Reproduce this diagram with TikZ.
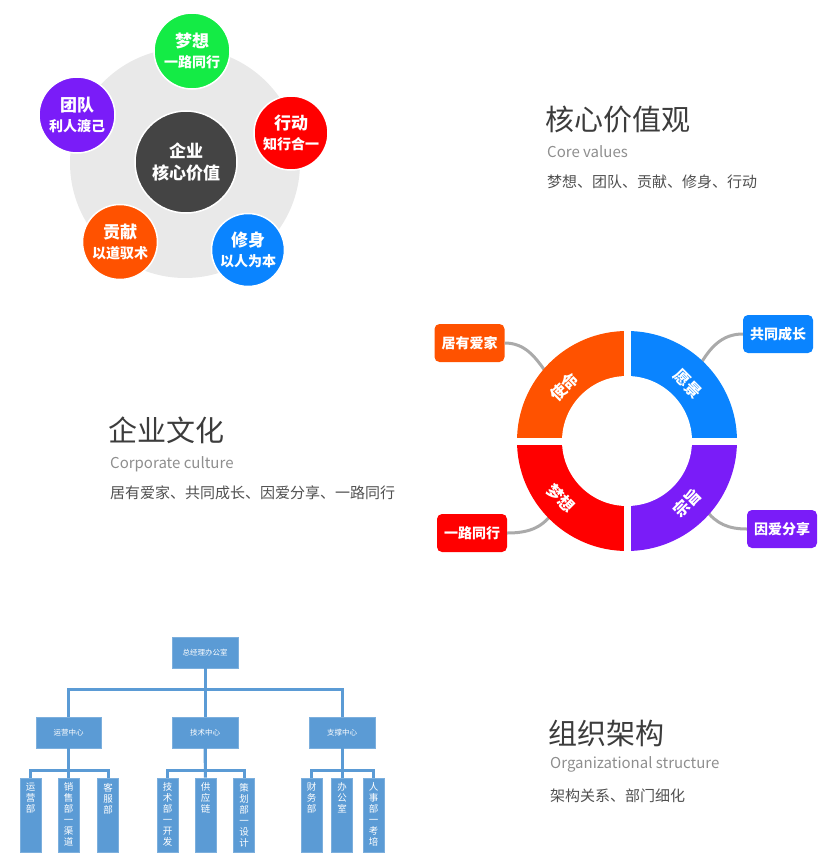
\documentclass[tikz,border=0pt]{standalone}
\usepackage{fontspec}
\setmainfont{Noto Sans CJK SC}
\usetikzlibrary{calc}
\definecolor{cgreen}{HTML}{14EB45}
\definecolor{cred}{HTML}{FF0000}
\definecolor{corange}{HTML}{FF5200}
\definecolor{cblue}{HTML}{0A84FF}
\definecolor{cpurple}{HTML}{7A1CF8}
\definecolor{coregray}{HTML}{444444}
\definecolor{bggray}{HTML}{E9E9E9}
\definecolor{linkgray}{HTML}{AAAAAA}
\definecolor{orgblue}{HTML}{5B9BD5}
\definecolor{titlegray}{HTML}{3C3C3C}
\definecolor{engray}{HTML}{8E8E8E}
\definecolor{subgray}{HTML}{505050}

\begin{document}
\begin{tikzpicture}[x=1pt, y=1pt,
	valcircle/.style={circle, draw=white, line width=1.5pt, text=white, align=center, inner sep=0pt},
	tagbox/.style={rectangle, rounded corners=5pt, minimum width=70pt, minimum height=38pt, inner sep=0pt, text=white, font=\bfseries\fontsize{14}{16}\selectfont},
	ringtxt/.style={text=white, inner sep=0pt, font=\bfseries\fontsize{16}{18}\selectfont},
	link/.style={draw=linkgray, line width=3pt},
	orgbox/.style={rectangle, fill=orgblue, draw=orgblue!80!white, line width=0.6pt, inner sep=0pt, text=white},
	orgline/.style={draw=orgblue, line width=3pt},
	headtxt/.style={anchor=west, inner sep=0pt, text=titlegray, font=\fontsize{29}{32}\selectfont},
	entxt/.style={anchor=west, inner sep=0pt, text=engray, font=\fontsize{15}{17}\selectfont},
	subtxt/.style={anchor=west, inner sep=0pt, text=subgray, font=\fontsize{15}{17}\selectfont}]
	\useasboundingbox (0,0) rectangle (830,-859);

	% Core values:
	\node[circle, fill=bggray, minimum size=230pt, inner sep=0pt] (bgdisc) at (185,-163) {};
	\node[valcircle, fill=coregray, minimum size=102pt, font=\bfseries\fontsize{17}{22}\selectfont] (core) at (186,-162) {企业\\核心价值};
	\node[valcircle, fill=cgreen, minimum size=76pt] (dream) at (192,-51) {{\bfseries\fontsize{17}{23}\selectfont 梦想}\\[6pt]{\bfseries\fontsize{14}{16}\selectfont 一路同行}};
	\node[valcircle, fill=cred, minimum size=74pt] (action) at (291,-133) {{\bfseries\fontsize{17}{23}\selectfont 行动}\\[6pt]{\bfseries\fontsize{14}{16}\selectfont 知行合一}};
	\node[valcircle, fill=cpurple, minimum size=76pt] (team) at (77,-115) {{\bfseries\fontsize{17}{23}\selectfont 团队}\\[6pt]{\bfseries\fontsize{14}{16}\selectfont 利人渡己}};
	\node[valcircle, fill=corange, minimum size=75pt] (devote) at (120,-242) {{\bfseries\fontsize{17}{23}\selectfont 贡献}\\[6pt]{\bfseries\fontsize{14}{16}\selectfont 以道驭术}};
	\node[valcircle, fill=cblue, minimum size=73pt] (selfcult) at (248,-250) {{\bfseries\fontsize{17}{23}\selectfont 修身}\\[6pt]{\bfseries\fontsize{14}{16}\selectfont 以人为本}};

	\node[headtxt] (valtitle) at (545,-120) {核心价值观};
	\node[entxt] (valen) at (547,-152) {Core values};
	\node[subtxt] (valsub) at (547,-182) {梦想、团队、贡献、修身、行动};

	% Culture ring:
	\coordinate (ringc) at (627,-441);
	\node[tagbox, fill=corange] (home) at (469.5,-343) {居有爱家};
	\node[tagbox, fill=cblue] (grow) at (778,-334) {共同成长};
	\node[tagbox, fill=cred] (together) at (472,-533) {一路同行};
	\node[tagbox, fill=cpurple] (share) at (782,-529) {因爱分享};
	\coordinate (homeend) at ($(ringc)+(140:104)$);
	\coordinate (growend) at ($(ringc)+(46:104)$);
	\coordinate (togetherend) at ($(ringc)+(224:104)$);
	\coordinate (shareend) at ($(ringc)+(319:104)$);
	\draw[link] (home.east) to[out=0, in=125] (homeend);
	\draw[link] (grow.west) to[out=180, in=60] (growend);
	\draw[link] (together.east) to[out=0, in=235] (togetherend);
	\draw[link] (share.west) to[out=180, in=-55] (shareend);

	\fill[cblue] (ringc) -- ++(0:110) arc[start angle=0, end angle=90, radius=110pt] -- cycle;
	\fill[corange] (ringc) -- ++(90:110) arc[start angle=90, end angle=180, radius=110pt] -- cycle;
	\fill[cred] (ringc) -- ++(180:110) arc[start angle=180, end angle=270, radius=110pt] -- cycle;
	\fill[cpurple] (ringc) -- ++(270:110) arc[start angle=270, end angle=360, radius=110pt] -- cycle;
	\fill[white] (ringc) circle[radius=65pt];
	\draw[white, line width=7pt] ($(ringc)+(-114,0)$) -- ($(ringc)+(114,0)$);
	\draw[white, line width=7pt] ($(ringc)+(0,-114)$) -- ($(ringc)+(0,114)$);

	\node[ringtxt, rotate=45] (mission) at (564,-387) {使命};
	\node[ringtxt, rotate=-45] (vision) at (688,-384) {愿景};
	\node[ringtxt, rotate=-45] (dreamq) at (561,-498) {梦想};
	\node[ringtxt, rotate=45] (purpose) at (687,-503) {宗旨};

	\node[headtxt] (cultitle) at (108,-430) {企业文化};
	\node[entxt] (culen) at (110,-464) {Corporate culture};
	\node[subtxt] (culsub) at (110,-493) {居有爱家、共同成长、因爱分享、一路同行};

	% Organizational chart:
	\node[orgbox, minimum width=66pt, minimum height=31pt, font=\fontsize{7.5}{9}\selectfont] (gm) at (205,-652.5) {总经理办公室};
	\node[orgbox, minimum width=65pt, minimum height=31pt, font=\fontsize{7.5}{9}\selectfont] (opc) at (68.5,-732.5) {运营中心};
	\node[orgbox, minimum width=66pt, minimum height=31pt, font=\fontsize{7.5}{9}\selectfont] (tec) at (205,-732.5) {技术中心};
	\node[orgbox, minimum width=66pt, minimum height=31pt, font=\fontsize{7.5}{9}\selectfont] (spc) at (342,-732.5) {支撑中心};

	\foreach \nm/\xx/\txt in {opa/30.5/运\\营\\部, opb/68.5/销\\售\\部\\一\\渠\\道, opd/108/客\\服\\部,
		tea/167.5/技\\术\\部\\一\\开\\发, teb/205.5/供\\应\\链, ted/244/策\\划\\部\\一\\设\\计,
		spa/311.5/财\\务\\部, spb/342/办\\公\\室, spd/373.5/人\\事\\部\\一\\考\\培}
		\node[orgbox, minimum width=21pt, minimum height=74pt] (\nm) at (\xx,-815)
			{\parbox[c][70pt][t]{14pt}{\centering\fontsize{9.5}{11}\selectfont\vspace*{3pt}\txt}};

	\draw[orgline] (gm.south) -- ++(0,-21) -| (opc.north);
	\draw[orgline] (gm.south) -- ++(0,-21) -| (spc.north);
	\draw[orgline] (gm.south) -- (tec.north);
	\foreach \pa/\ca/\cb/\cd in {opc/opa/opb/opd, tec/tea/teb/ted, spc/spa/spb/spd} {
		\draw[orgline] (\pa.south) -- ++(0,-22) -| (\ca.north);
		\draw[orgline] (\pa.south) -- ++(0,-22) -| (\cd.north);
		\draw[orgline] (\pa.south) -- (\cb.north);
	}

	\node[headtxt] (orgtitle) at (548,-733) {组织架构};
	\node[entxt] (orgen) at (550,-764) {Organizational structure};
	\node[subtxt] (orgsub) at (550,-796) {架构关系、部门细化};
\end{tikzpicture}
\end{document}
